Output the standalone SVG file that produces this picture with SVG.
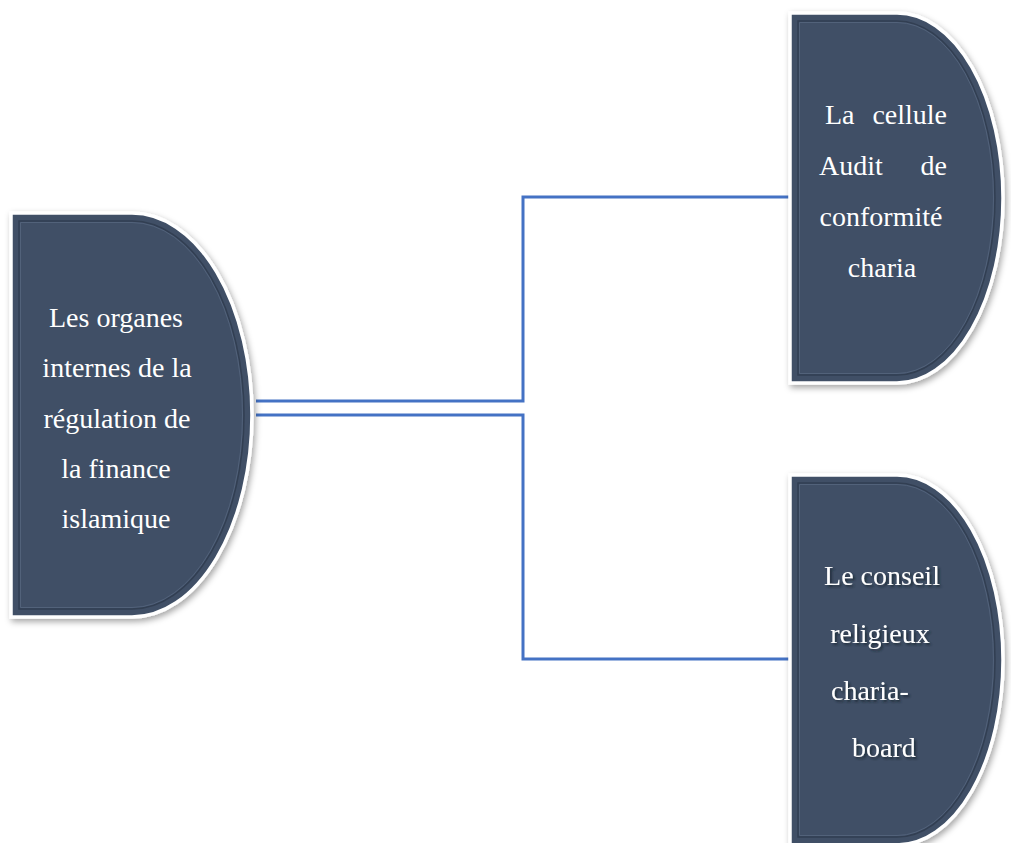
<svg xmlns="http://www.w3.org/2000/svg" width="1011" height="843" viewBox="0 0 1011 843">
  <defs>
    <filter id="sh" x="-10%" y="-10%" width="125%" height="125%">
      <feDropShadow dx="2" dy="3" stdDeviation="3" flood-color="#000" flood-opacity="0.35"/>
    </filter>
    <filter id="tsh" x="-10%" y="-20%" width="130%" height="150%">
      <feDropShadow dx="2" dy="2" stdDeviation="1.2" flood-color="#1c2533" flood-opacity="0.8"/>
    </filter>
  </defs>
  <style>
    .shape { fill: #3F4F66; stroke: #ffffff; stroke-width: 3.5; }
    .bevel { fill: none; stroke: #2E3B4E; stroke-width: 1.5; opacity: 0.8; }
    .bevel2 { fill: none; stroke: #56677F; stroke-width: 1; opacity: 0.8; }
    .lbl { font-family: "Liberation Serif", "Times New Roman", serif; font-size: 28px; fill: #ffffff; }
    .mid { text-anchor: middle; }
    .end { text-anchor: end; }
    .conn { fill: none; stroke: #4472C4; stroke-width: 3; stroke-linejoin: miter; }
  </style>
  <rect width="1011" height="843" fill="#ffffff"/>

  <g id="connectors">
    <polyline class="conn" points="256,401 523,401 523,197 790,197"/>
    <polyline class="conn" points="256,415 523,415 523,659 790,659"/>
  </g>

  <g id="node-main">
    <path class="shape" filter="url(#sh)" d="M11,213 H132 A120,202 0 0 1 132,617 H11 Z"/>
    <path class="bevel" d="M19,221 H132 A112,194 0 0 1 132,609 H19 Z"/>
    <path class="bevel2" d="M20.5,222.5 H132 A110.5,192.5 0 0 1 132,607.5 H20.5 Z"/>
    <text class="lbl mid" x="116" y="327">Les organes</text>
    <text class="lbl mid" x="117" y="377">internes de la</text>
    <text class="lbl mid" x="117" y="428">régulation de</text>
    <text class="lbl mid" x="116" y="478">la finance</text>
    <text class="lbl mid" x="116" y="528">islamique</text>
  </g>

  <g id="node-audit">
    <path class="shape" filter="url(#sh)" d="M790,13 H897 A106,185 0 0 1 897,383 H790 Z"/>
    <path class="bevel" d="M798,21 H897 A98,177 0 0 1 897,375 H798 Z"/>
    <path class="bevel2" d="M799.5,22.5 H897 A96.5,175.5 0 0 1 897,373.5 H799.5 Z"/>
    <text class="lbl" x="825" y="124">La</text>
    <text class="lbl end" x="947" y="124">cellule</text>
    <text class="lbl" x="819" y="175">Audit</text>
    <text class="lbl end" x="947" y="175">de</text>
    <text class="lbl mid" x="881" y="226">conformité</text>
    <text class="lbl mid" x="882" y="277">charia</text>
  </g>

  <g id="node-conseil">
    <path class="shape" filter="url(#sh)" d="M790,475 H897 A106,185 0 0 1 897,845 H790 Z"/>
    <path class="bevel" d="M798,483 H897 A98,177 0 0 1 897,837 H798 Z"/>
    <path class="bevel2" d="M799.5,484.5 H897 A96.5,175.5 0 0 1 897,835.5 H799.5 Z"/>
    <g filter="url(#tsh)">
      <text class="lbl mid" x="882" y="585">Le conseil</text>
      <text class="lbl mid" x="880" y="643">religieux</text>
      <text class="lbl" x="831" y="700">charia-</text>
      <text class="lbl mid" x="884" y="757">board</text>
    </g>
  </g>
</svg>
